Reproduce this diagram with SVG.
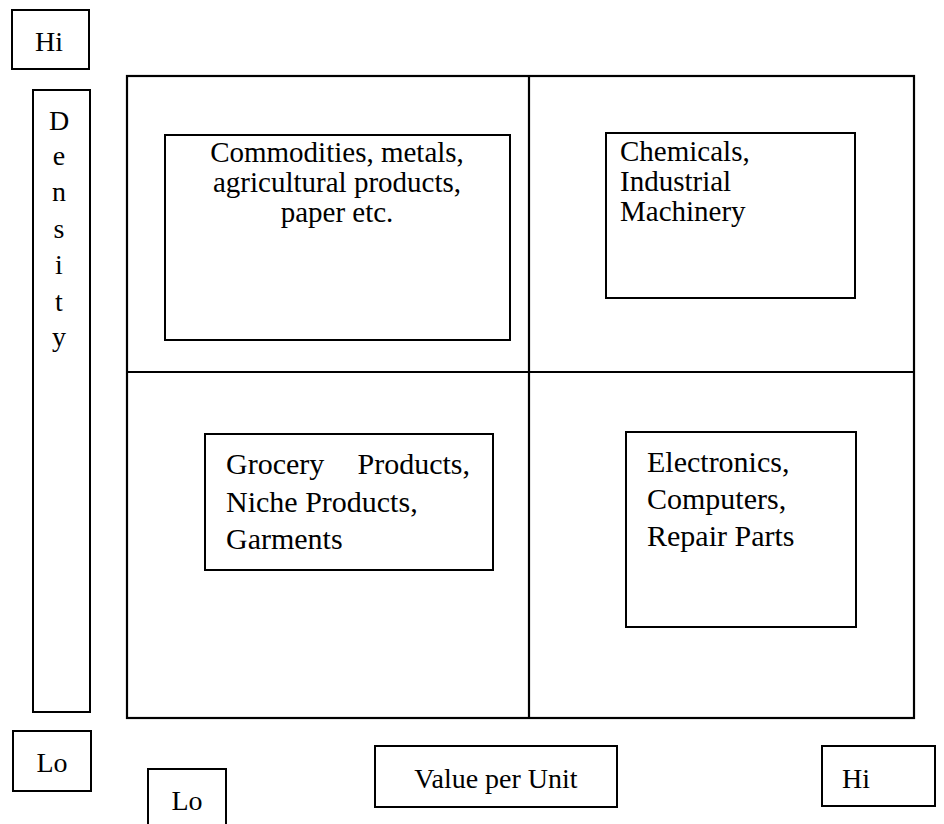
<svg xmlns="http://www.w3.org/2000/svg" width="944" height="824" viewBox="0 0 944 824">
<style>
  .box{fill:none;stroke:#000;stroke-width:2}
  .frame{fill:none;stroke:#000;stroke-width:2.2}
  text{font-family:"Liberation Serif","Times New Roman",serif;fill:#000}
  .lbl{font-size:28px}
  .q{font-size:30px}
  .q2{font-size:29px}
  .mid{text-anchor:middle}
</style>
<rect width="944" height="824" fill="#fff"/>

<g id="grid">
  <rect class="frame" x="127" y="76" width="787" height="642"/>
  <line class="frame" x1="529" y1="76" x2="529" y2="718"/>
  <line class="frame" x1="127" y1="372" x2="914" y2="372"/>
</g>

<g id="hi-top" font-family="Liberation Serif, serif">
  <rect class="box" x="12" y="10" width="77" height="59"/>
  <text class="lbl mid" x="49" y="51" font-size="29">Hi</text>
</g>

<g id="density" font-family="Liberation Serif, serif">
  <rect class="box" x="33" y="90" width="57" height="622"/>
  <text class="lbl mid" x="59" y="130">D</text>
  <text class="lbl mid" x="59" y="165">e</text>
  <text class="lbl mid" x="59" y="201">n</text>
  <text class="lbl mid" x="59" y="238">s</text>
  <text class="lbl mid" x="59" y="274">i</text>
  <text class="lbl mid" x="59" y="311">t</text>
  <text class="lbl mid" x="59" y="346">y</text>
</g>

<g id="lo-left" font-family="Liberation Serif, serif">
  <rect class="box" x="13" y="731" width="78" height="60"/>
  <text class="lbl mid" x="52" y="772" font-size="29">Lo</text>
</g>

<g id="lo-bottom" font-family="Liberation Serif, serif">
  <rect class="box" x="148" y="769" width="78" height="60"/>
  <text class="lbl mid" x="187" y="810" font-size="29">Lo</text>
</g>

<g id="value-per-unit" font-family="Liberation Serif, serif">
  <rect class="box" x="375" y="746" width="242" height="61"/>
  <text class="lbl mid" x="496" y="788">Value per Unit</text>
</g>

<g id="hi-right" font-family="Liberation Serif, serif">
  <rect class="box" x="822" y="746" width="113" height="60"/>
  <text class="lbl mid" x="856" y="788" font-size="29">Hi</text>
</g>

<g id="commodities" font-family="Liberation Serif, serif">
  <rect class="box" x="165" y="135" width="345" height="205"/>
  <text class="q2 mid" x="337" y="162">Commodities, metals,</text>
  <text class="q2 mid" x="337" y="192">agricultural products,</text>
  <text class="q2 mid" x="337" y="222">paper etc.</text>
</g>

<g id="chemicals" font-family="Liberation Serif, serif">
  <rect class="box" x="606" y="133" width="249" height="165"/>
  <text class="q2" x="620" y="161">Chemicals,</text>
  <text class="q2" x="620" y="191">Industrial</text>
  <text class="q2" x="620" y="221">Machinery</text>
</g>

<g id="grocery" font-family="Liberation Serif, serif">
  <rect class="box" x="205" y="434" width="288" height="136"/>
  <text class="q"><tspan x="226" y="474">Grocery</tspan><tspan x="470" y="474" text-anchor="end">Products,</tspan></text>
  <text class="q" x="226" y="512">Niche Products,</text>
  <text class="q" x="226" y="549">Garments</text>
</g>

<g id="electronics" font-family="Liberation Serif, serif">
  <rect class="box" x="626" y="432" width="230" height="195"/>
  <text class="q" x="647" y="472">Electronics,</text>
  <text class="q" x="647" y="509">Computers,</text>
  <text class="q" x="647" y="546">Repair Parts</text>
</g>
</svg>
